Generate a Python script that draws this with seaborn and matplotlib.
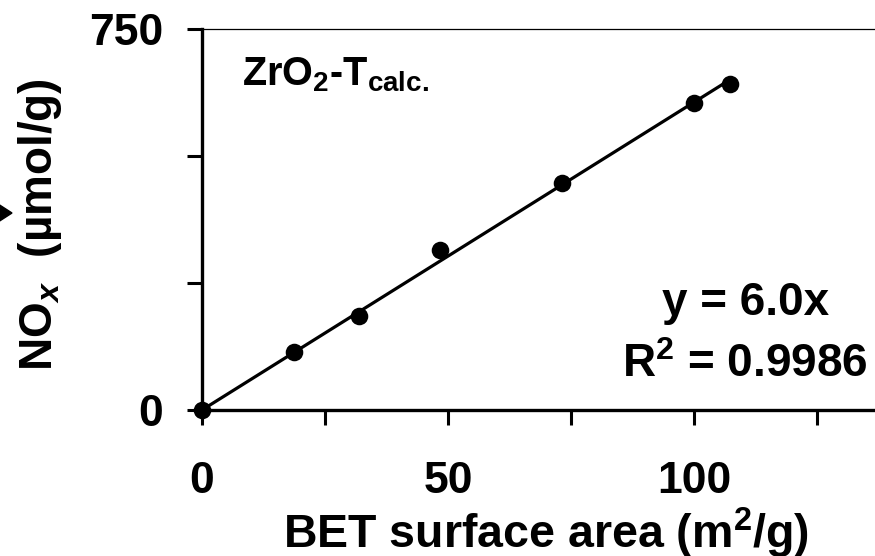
import numpy as np
import pandas as pd
import matplotlib
matplotlib.use("Agg")
import matplotlib.pyplot as plt
from matplotlib.patches import Polygon
import seaborn as sns

# ---- data ----
bet_area = [0.0, 18.7, 31.9, 48.4, 73.2, 100.0, 107.3]      # m2/g
nox = [0.0, 114.0, 185.0, 314.0, 446.0, 605.0, 642.0]        # umol/g
x_ticks = [0, 25, 50, 75, 100, 125]
x_ticklabels = ["0", "", "50", "", "100", ""]
y_ticks = [0, 250, 500, 750]
y_ticklabels = ["0", "", "", "750"]
eq_text = "y = 6.0x"
r2_text = r"R$^\mathregular{2}$ = 0.9986"
sample_label = r"ZrO$_\mathregular{2}$-T$_\mathregular{calc.}$"

sns.set_theme(style="white")
plt.rcParams["font.family"] = ["Liberation Sans", "DejaVu Sans"]
plt.rcParams["font.weight"] = "bold"
plt.rcParams["text.color"] = "black"
plt.rcParams["axes.labelcolor"] = "black"
plt.rcParams["xtick.color"] = "black"
plt.rcParams["ytick.color"] = "black"
plt.rcParams["mathtext.fontset"] = "custom"
plt.rcParams["mathtext.rm"] = "Liberation Sans:bold"
plt.rcParams["mathtext.bf"] = "Liberation Sans:bold"
plt.rcParams["mathtext.it"] = "Liberation Sans:bold:italic"
plt.rcParams["mathtext.default"] = "regular"

df = pd.DataFrame({"x": bet_area, "y": nox})
xa = np.array(bet_area)
ya = np.array(nox)
slope = float(np.sum(xa * ya) / np.sum(xa * xa))  # fit through origin
fit = pd.DataFrame({"x": [0.0, xa.max()], "y": [0.0, slope * xa.max()]})

fig = plt.figure(figsize=(8.75, 5.56), dpi=100)
ax = fig.add_axes([202 / 875, 1 - 410 / 556, 1 - 202 / 875, (410 - 29) / 556])

sns.lineplot(data=fit, x="x", y="y", ax=ax, color="black", linewidth=2.3,
             clip_on=False, zorder=3)
sns.scatterplot(data=df, x="x", y="y", ax=ax, color="black", s=160,
                edgecolor="black", linewidth=0, clip_on=False, zorder=4)

ax.set_xlim(0, 136.8)
ax.set_ylim(0, 750)
ax.set_xticks(x_ticks)
ax.set_xticklabels(x_ticklabels)
ax.set_yticks(y_ticks)
ax.set_yticklabels(y_ticklabels)

for side in ["left", "bottom"]:
    ax.spines[side].set_linewidth(2.4)
    ax.spines[side].set_color("black")
ax.spines["top"].set_linewidth(0.9)
ax.spines["top"].set_color("black")
ax.spines["right"].set_visible(False)

ax.tick_params(axis="both", direction="out", length=11, width=2.2,
               colors="black", labelsize=32)
ax.tick_params(axis="y", pad=17, left=True)
ax.tick_params(axis="x", pad=26, bottom=True)
for lab in ax.get_xticklabels() + ax.get_yticklabels():
    lab.set_fontweight("bold")

ax.set_xlabel(r"BET surface area (m$^\mathregular{2}$/g)", fontsize=33.5,
              fontweight="bold")
ax.xaxis.set_label_coords(0.511, -0.252)
ax.set_ylabel(r"NO$_{\mathit{x}}$  (µmol/g)", fontsize=33, fontweight="bold")
ax.yaxis.set_label_coords(-0.205, 0.488)

ax.text(0.059, 0.853, sample_label, transform=ax.transAxes, fontsize=28.5,
        fontweight="bold", ha="left", va="baseline")
ax.text(0.807, 0.249, eq_text, transform=ax.transAxes, fontsize=33,
        fontweight="bold", ha="center", va="baseline")
ax.text(0.807, 0.087, r2_text, transform=ax.transAxes, fontsize=33,
        fontweight="bold", ha="center", va="baseline")

# cropped arrow head at the left edge
tri = Polygon([(-0.05, (556 - 202) / 100), (0.12, (556 - 213) / 100),
               (-0.05, (556 - 224) / 100)], closed=True,
              transform=fig.dpi_scale_trans, color="black", clip_on=False)
fig.add_artist(tri)

fig.savefig("out.png", dpi=100, facecolor="white")
